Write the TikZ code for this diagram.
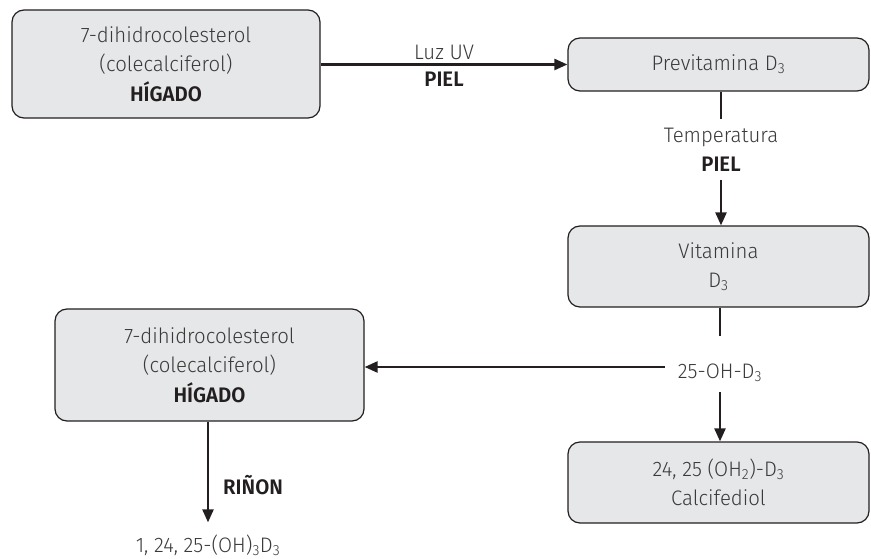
\documentclass[tikz,border=0pt]{standalone}
\usepackage{fontspec}
\IfFontExistsTF{Fira Sans Light}
  {\setmainfont{Fira Sans}[FakeStretch=0.97,UprightFont={* Light},BoldFont={* SemiBold}]}
  {\setmainfont{Fira Sans}[FakeStretch=0.97]}
\usetikzlibrary{arrows.meta}
\definecolor{boxfill}{HTML}{E6E7E8}
\definecolor{ink}{HTML}{231F20}
\definecolor{txt}{HTML}{3A3A3A}
\begin{document}
\begin{tikzpicture}[x=1pt,y=-1pt,
  font=\fontsize{21}{29.5}\selectfont\color{txt},
  stage/.style={draw=ink,line width=1.2pt,fill=boxfill,rounded corners=12pt,
    align=center,inner sep=0pt,minimum width=301pt},
  lbl/.style={align=center,inner sep=0pt},
  org/.style={font=\fontsize{21}{29.5}\selectfont\bfseries\color{ink}},
  flow/.style={draw=ink,line width=2.4pt,-{Triangle[length=13pt,width=11pt]}},
  link/.style={draw=ink,line width=2.4pt}]
\useasboundingbox (0,0) rectangle (871,559);

% boxes
\node[stage,minimum width=308pt,minimum height=108pt] (liver1) at (166,64)
  {7-dihidrocolesterol\\(colecalciferol)\\{\bfseries\color{ink}HÍGADO}};
\node[stage,minimum height=53pt] (previt) at (718.5,64.5) {Previtamina D\textsubscript{3}};
\node[stage,minimum height=81pt] (vitd) at (718.5,266.5) {Vitamina\\D\textsubscript{3}};
\node[stage,minimum width=309pt,minimum height=112pt] (liver2) at (209.5,365)
  {7-dihidrocolesterol\\(colecalciferol)\\{\bfseries\color{ink}HÍGADO}};
\node[stage,minimum height=81pt] (calc) at (718.5,482.5)
  {24, 25 (OH\textsubscript{2})-D\textsubscript{3}\\Calcifediol};

% free labels
\node[lbl,minimum height=63pt] (temp) at (721,150)
  {Temperatura\\{\bfseries\color{ink}PIEL}};
\node[lbl] (oh) at (720,373) {25-OH-D\textsubscript{3}};
\node[lbl] (res) at (208,545) {1, 24, 25-(OH)\textsubscript{3}D\textsubscript{3}};

% connectors
\draw[flow] (liver1.east |- previt.west) -- node[above=4pt,lbl]{Luz UV}
  node[below=6pt,lbl,org]{PIEL} (previt.west);
\draw[link] (temp.north |- previt.south) -- ([yshift=-1pt]temp.north);
\draw[flow] ([yshift=2pt]temp.south) -- (temp.south |- vitd.north);
\draw[link] (oh.north |- vitd.south) -- ([yshift=28pt]oh.north);
\draw[flow] ([yshift=-10pt]oh.south) -- (oh.south |- calc.north);
\draw[flow] ([xshift=-13pt,yshift=6pt]oh.west) -- ([yshift=6pt]oh.west -| liver2.east);
\draw[flow] (res.north |- liver2.south) -- ([yshift=12pt]res.north)
  node[pos=0.63,right=14pt,lbl,org]{RIÑON};
\end{tikzpicture}
\end{document}
